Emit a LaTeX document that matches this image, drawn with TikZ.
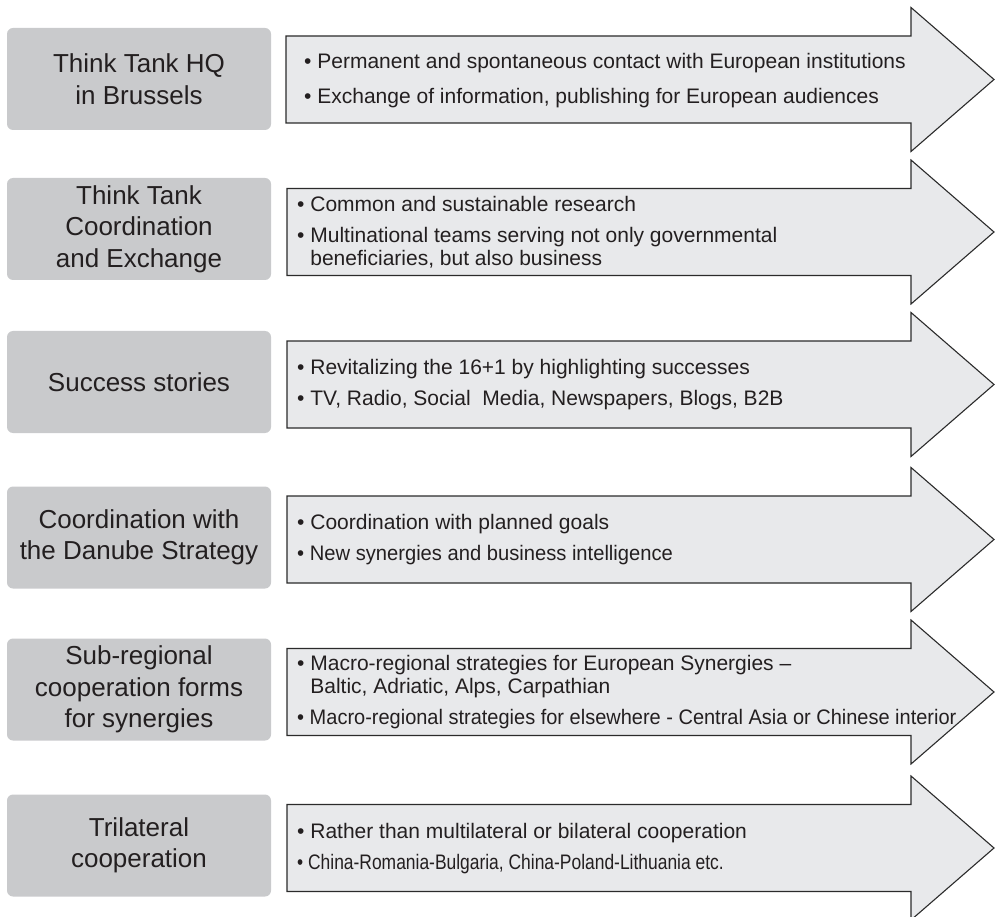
\documentclass[tikz,border=0pt]{standalone}
\usepackage{fontspec}
\usepackage{graphicx}
\setmainfont{Liberation Sans}
\definecolor{boxgray}{HTML}{C9CACC}
\definecolor{arrowfill}{HTML}{E8E9EB}
\definecolor{edge}{HTML}{2B2B2B}
\definecolor{txt}{HTML}{231F20}
% one horizontal block arrow: #1 = centre line, #2 = left end of shaft
\newcommand{\blockarrow}[3]{%
  \draw[arw] (#2,#1-43.5) -- (911,#1-43.5) -- (911,#1-72) -- (994,#1)
    -- (911,#1+72) -- (911,#1+43.5) -- (#2,#1+43.5) -- cycle
    node[coordinate] (#3) {};}
\newcommand{\cont}{\phantom{\textbullet\ }}
% a bullet line set slightly condensed
\newcommand{\tight}[2]{\scalebox{#1}[1]{#2}}
\begin{document}
\begin{tikzpicture}[x=1pt,y=-1pt,
  lbl/.style={fill=boxgray, rounded corners=6pt, minimum width=264pt,
    minimum height=102pt, font=\fontsize{26}{31.5}\selectfont,
    align=center, text=txt, inner sep=0pt},
  arw/.style={fill=arrowfill, draw=edge, line width=1.1pt, line join=miter},
  items/.style={anchor=west, align=left, font=\fontsize{21}{23.4}\selectfont,
    text=txt, inner sep=0pt}]
\useasboundingbox (0,0) rectangle (996,917);

% category boxes on the left
\node[lbl] (hq)   at (139,79)    {Think Tank HQ\\in Brussels};
\node[lbl] (coord) at (139,229)  {Think Tank\\Coordination\\and Exchange};
\node[lbl] (succ) at (139,382)   {Success stories};
\node[lbl] (danube) at (139,537.5) {Coordination with\\the Danube Strategy};
\node[lbl] (subreg) at (139,689.5) {Sub-regional\\cooperation forms\\for synergies};
\node[lbl] (tri)  at (139,845.5) {Trilateral\\cooperation};

% block arrows carrying the details
\blockarrow{79.5}{286}{a1}
\blockarrow{232}{287}{a2}
\blockarrow{384.5}{287}{a3}
\blockarrow{539.5}{287}{a4}
\blockarrow{692}{287}{a5}
\blockarrow{848}{287}{a6}

\node[items] (t1) at (304,80.5) {\textbullet\ Permanent and spontaneous contact with European institutions\\[11.3pt]
  \textbullet\ Exchange of information, publishing for European audiences};
\node[items] (t2) at (297,232) {\textbullet\ Common and sustainable research\\[7.6pt]
  \textbullet\ Multinational teams serving not only governmental\\
  \cont beneficiaries, but also business};
\node[items] (t3) at (297,385) {\textbullet\ Revitalizing the 16+1 by highlighting successes\\[7.6pt]
  \textbullet\ TV, Radio, Social\ \ Media, Newspapers, Blogs, B2B};
\node[items] (t4) at (297,540) {\textbullet\ Coordination with planned goals\\[7.6pt]
  \tight{0.96}{\textbullet\ New synergies and business intelligence}};
\node[items] (t5) at (297,692) {\textbullet\ Macro-regional strategies for European Synergies --\\
  \cont Baltic, Adriatic, Alps, Carpathian\\[7.6pt]
  \tight{0.952}{\textbullet\ Macro-regional strategies for elsewhere - Central Asia or Chinese interior}};
\node[items] (t6) at (297,848.5) {\textbullet\ Rather than multilateral or bilateral cooperation\\[7.6pt]
  \tight{0.83}{\textbullet\ China-Romania-Bulgaria, China-Poland-Lithuania etc.}};
\end{tikzpicture}
\end{document}
